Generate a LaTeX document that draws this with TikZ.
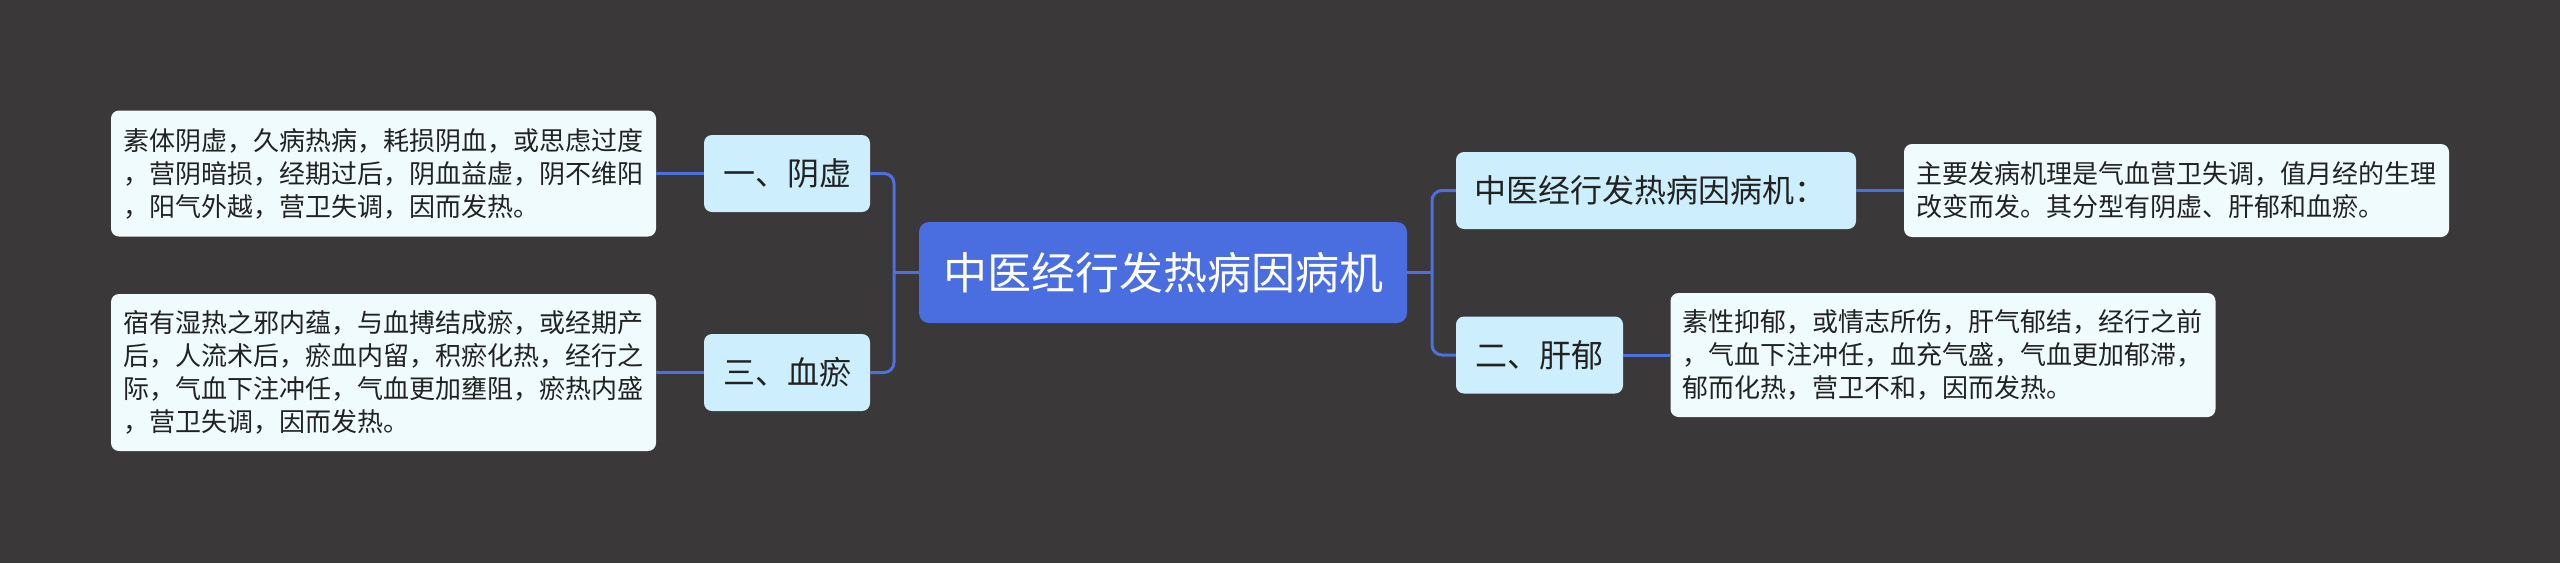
\documentclass[tikz,border=0pt]{standalone}
\usepackage{fontspec}
\setmainfont{Noto Sans CJK SC}
\definecolor{bg}{HTML}{3A3839}
\definecolor{linkblue}{HTML}{4E6FE0}
\definecolor{rootfill}{HTML}{4A6DE0}
\definecolor{lvfill}{HTML}{CDEFFD}
\definecolor{leaffill}{HTML}{F0FBFD}
\definecolor{txt}{HTML}{222222}
\begin{document}
\begin{tikzpicture}[x=1pt,y=-1pt,
  conn/.style={draw=linkblue, line width=3pt},
  rootconn/.style={draw=linkblue, line width=2.5pt},
  rootbox/.style={fill=rootfill, rounded corners=10pt, text=white,
    font=\fontsize{44}{52}\selectfont, minimum width=488pt, minimum height=101pt,
    inner sep=0pt, anchor=center},
  lvbox/.style={fill=lvfill, rounded corners=8pt, text=txt,
    font=\fontsize{32}{40}\selectfont, minimum height=77pt,
    inner sep=0pt, anchor=center},
  leafbox/.style={fill=leaffill, rounded corners=8pt, text=txt,
    font=\fontsize{26}{33}\selectfont, align=left, text width=521pt,
    inner xsep=12pt, inner ysep=0pt, anchor=center}
]
\fill[bg] (0,0) rectangle (2560,563);
\useasboundingbox (0,0) rectangle (2560,563);

% root
\node[rootbox] (root) at (1163,272.5) {中医经行发热病因病机};

% level 1
\node[lvbox, minimum width=166pt] (yinxu) at (787,173.5) {一、阴虚};
\node[lvbox, minimum width=166pt] (xueyu) at (787,372.5) {三、血瘀};
\node[lvbox, align=left, text width=364pt, inner xsep=18pt] (bingji) at (1656,190.5) {中医经行发热病因病机：};
\node[lvbox, minimum width=167pt] (ganyu) at (1539.5,355) {二、肝郁};

% leaves
\node[leafbox, minimum height=126pt] (leafa) at (383.5,173.5)
  {素体阴虚，久病热病，耗损阴血，或思虑过度\\，营阴暗损，经期过后，阴血益虚，阴不维阳\\，阳气外越，营卫失调，因而发热。};
\node[leafbox, minimum height=157pt] (leafc) at (383.5,372.5)
  {宿有湿热之邪内蕴，与血搏结成瘀，或经期产\\后，人流术后，瘀血内留，积瘀化热，经行之\\际，气血下注冲任，气血更加壅阻，瘀热内盛\\，营卫失调，因而发热。};
\node[leafbox, minimum height=93pt] (leafm) at (2176.5,190.5)
  {主要发病机理是气血营卫失调，值月经的生理\\改变而发。其分型有阴虚、肝郁和血瘀。};
\node[leafbox, minimum height=124pt] (leafb) at (1943,355)
  {素性抑郁，或情志所伤，肝气郁结，经行之前\\，气血下注冲任，血充气盛，气血更加郁滞，\\郁而化热，营卫不和，因而发热。};

% bus coordinates
\coordinate (bl) at (894,272.5);
\coordinate (br) at (1432,272.5);

% connectors
\draw[rootconn] (root.west) -- (bl);
\draw[rootconn] (root.east) -- (br);
\draw[conn, rounded corners=10pt] (yinxu.east) -- (bl |- yinxu.east) -- (bl |- xueyu.east) -- (xueyu.east);
\draw[conn, rounded corners=10pt] (bingji.west) -- (br |- bingji.west) -- (br |- ganyu.west) -- (ganyu.west);
\draw[conn] (leafa.east) -- (yinxu.west);
\draw[conn] (leafc.east) -- (xueyu.west);
\draw[conn] (bingji.east) -- (leafm.west);
\draw[conn] (ganyu.east) -- (leafb.west);
\end{tikzpicture}
\end{document}
